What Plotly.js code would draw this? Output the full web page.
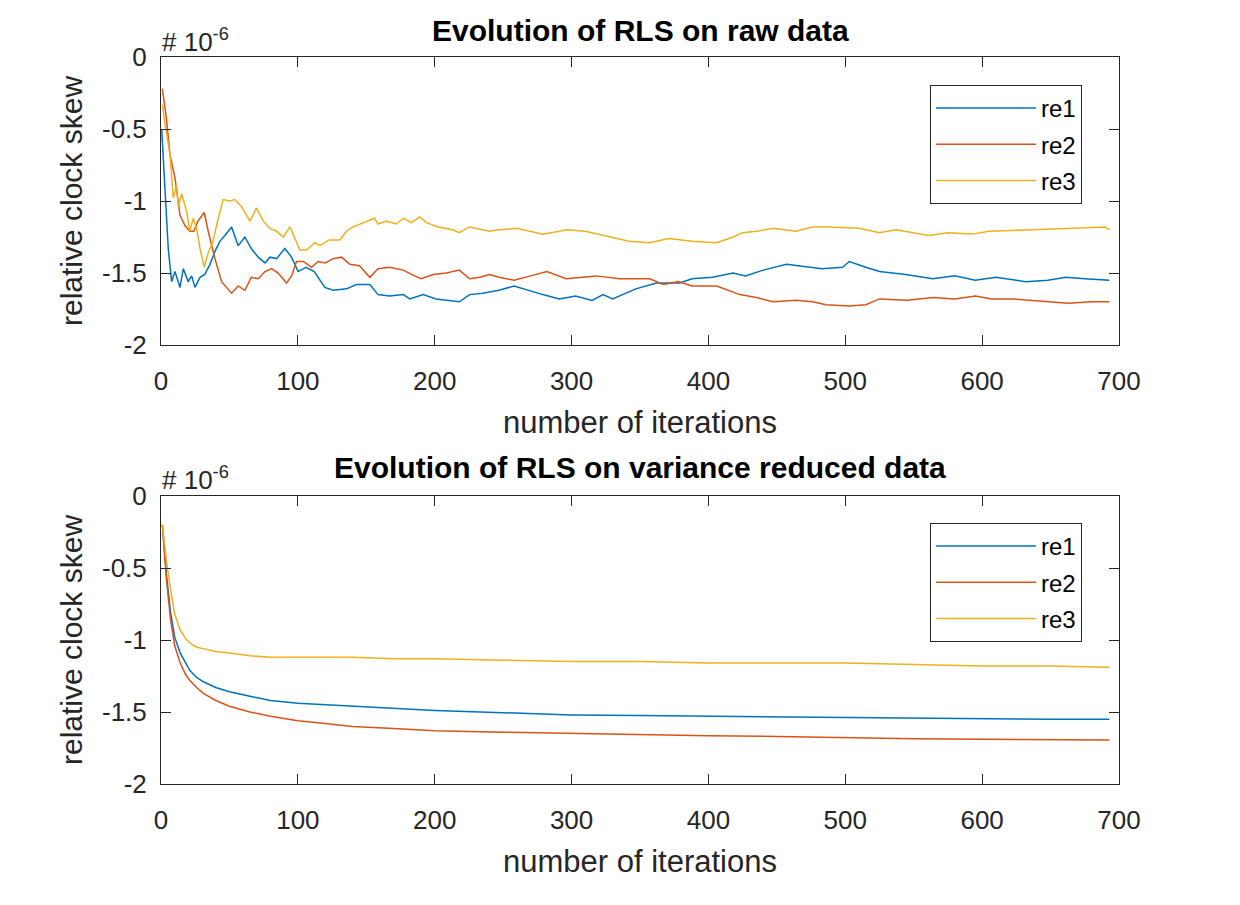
<!DOCTYPE html>
<html>
<head>
<meta charset="utf-8">
<script src="https://cdn.plot.ly/plotly-3.0.1.min.js"></script>
<style>
html,body{margin:0;padding:0;background:#fff;}
#chart{width:1240px;height:905px;}
</style>
</head>
<body>
<div id="chart"></div>
<script>
// ---------- data (values in units of 1e-6) ----------
const seriesNames = ['re1', 're2', 're3'];
const seriesColors = ['#0072BD', '#D95319', '#EDB120'];

// Top panel: raw data
const rawIterRe1 = [0.5, 5.3, 7.8, 10.2, 13.9, 16.3, 19.9, 22.4, 24.8, 28.5, 32, 35.8, 39.4, 43, 46.7, 51.6, 56.4, 61.3, 66, 71, 76, 79.6, 84.5, 90.5, 95.4, 100.2, 106, 112, 119.7, 125.8, 135.5, 142.8, 152.6, 158.6, 167, 177, 181.8, 191.5, 201, 218, 225.5, 235, 247, 258, 279, 291, 303, 315, 323, 330, 347, 362, 379, 388, 403, 418, 427, 440, 457, 466, 483, 498, 503, 515, 525, 544, 564, 580, 595, 610, 632, 648, 661, 675, 693];
const rawRe1 = [-0.50, -1.33, -1.56, -1.49, -1.60, -1.47, -1.56, -1.52, -1.60, -1.53, -1.51, -1.44, -1.35, -1.28, -1.24, -1.18, -1.31, -1.25, -1.33, -1.39, -1.43, -1.39, -1.40, -1.33, -1.39, -1.49, -1.46, -1.49, -1.60, -1.62, -1.61, -1.58, -1.58, -1.65, -1.66, -1.65, -1.68, -1.65, -1.68, -1.70, -1.65, -1.64, -1.62, -1.59, -1.65, -1.68, -1.66, -1.69, -1.65, -1.68, -1.61, -1.57, -1.57, -1.54, -1.53, -1.50, -1.52, -1.48, -1.44, -1.45, -1.47, -1.46, -1.42, -1.46, -1.49, -1.51, -1.54, -1.52, -1.55, -1.53, -1.56, -1.55, -1.53, -1.54, -1.55];

const rawIterRe2 = [1, 4, 6.6, 10.2, 13.9, 17.5, 21, 24, 27, 31.6, 34.5, 39.4, 44.3, 48, 51.6, 56.4, 61.3, 66, 71, 76, 80.8, 85.6, 91.7, 95.4, 99, 104, 110, 114.8, 120, 125.8, 132, 138, 145, 152.6, 158.6, 167, 177, 183, 190, 199, 208.5, 218, 225.5, 233, 240, 247, 258, 270, 282, 296, 318, 335, 357, 367, 378, 388, 406, 423, 435, 447, 464, 476, 486, 503, 515, 525, 545, 564, 580, 595, 607, 622, 637, 663, 680, 693];
const rawRe2 = [-0.22, -0.43, -0.68, -0.84, -1.10, -1.17, -1.21, -1.21, -1.14, -1.08, -1.21, -1.40, -1.56, -1.60, -1.64, -1.59, -1.62, -1.53, -1.54, -1.49, -1.47, -1.50, -1.57, -1.52, -1.42, -1.42, -1.46, -1.42, -1.43, -1.40, -1.39, -1.44, -1.45, -1.53, -1.47, -1.46, -1.48, -1.51, -1.54, -1.51, -1.50, -1.48, -1.54, -1.53, -1.51, -1.53, -1.55, -1.52, -1.49, -1.54, -1.52, -1.54, -1.54, -1.58, -1.56, -1.59, -1.59, -1.65, -1.67, -1.70, -1.69, -1.70, -1.72, -1.73, -1.72, -1.68, -1.69, -1.67, -1.68, -1.66, -1.68, -1.68, -1.69, -1.71, -1.70, -1.70];

const rawIterRe3 = [1, 3, 6.6, 9, 11.4, 12.7, 15.1, 18.7, 21, 23.6, 26, 28.5, 31.6, 34.5, 38, 41.8, 45.5, 50.4, 54, 58.9, 65, 69.8, 74.7, 79.6, 84.5, 89.3, 94.2, 97.8, 101.5, 106.3, 112.4, 116, 123, 130.7, 135.5, 140.4, 152.6, 156, 158.6, 164.7, 172, 177, 183, 189, 194, 202.4, 213, 218, 225.5, 240, 247, 260, 279, 297, 310, 328, 342, 357, 371, 388, 406, 418, 425, 435, 447, 464, 476, 488, 510, 525, 537, 561, 575, 593, 605, 637, 661, 690, 693];
const rawRe3 = [-0.33, -0.47, -0.68, -0.98, -0.89, -1.04, -0.95, -1.07, -1.21, -1.12, -1.19, -1.33, -1.46, -1.36, -1.28, -1.12, -0.99, -1.00, -0.99, -1.04, -1.14, -1.05, -1.14, -1.19, -1.21, -1.25, -1.18, -1.26, -1.34, -1.34, -1.29, -1.31, -1.27, -1.27, -1.21, -1.18, -1.13, -1.12, -1.16, -1.14, -1.16, -1.12, -1.15, -1.11, -1.15, -1.18, -1.20, -1.22, -1.18, -1.21, -1.20, -1.19, -1.23, -1.20, -1.21, -1.25, -1.28, -1.29, -1.26, -1.28, -1.29, -1.25, -1.22, -1.21, -1.19, -1.21, -1.18, -1.18, -1.19, -1.22, -1.20, -1.24, -1.22, -1.23, -1.21, -1.20, -1.19, -1.18, -1.20];

// Bottom panel: variance reduced data
const vrIter = [1, 4, 7, 10, 14, 18, 21, 26, 31, 40, 50, 65, 80, 100, 120, 140, 170, 200, 250, 300, 350, 400, 450, 500, 550, 600, 650, 693];
const vrRe1 = [-0.20, -0.55, -0.81, -0.98, -1.09, -1.16, -1.21, -1.26, -1.29, -1.33, -1.36, -1.39, -1.42, -1.44, -1.45, -1.46, -1.48, -1.49, -1.505, -1.52, -1.525, -1.53, -1.535, -1.54, -1.545, -1.545, -1.55, -1.55];
const vrRe2 = [-0.20, -0.58, -0.86, -1.04, -1.16, -1.24, -1.28, -1.33, -1.37, -1.42, -1.46, -1.50, -1.53, -1.56, -1.58, -1.60, -1.615, -1.63, -1.64, -1.65, -1.66, -1.665, -1.67, -1.68, -1.685, -1.69, -1.69, -1.695];
const vrRe3 = [-0.20, -0.45, -0.65, -0.82, -0.93, -0.99, -1.02, -1.05, -1.06, -1.08, -1.09, -1.11, -1.12, -1.12, -1.12, -1.12, -1.13, -1.13, -1.14, -1.15, -1.15, -1.16, -1.16, -1.16, -1.17, -1.18, -1.18, -1.19];

const xTickVals = [0, 100, 200, 300, 400, 500, 600, 700];
const yTickVals = [0, -0.5, -1, -1.5, -2];
const yTickText = ['0', '-0.5', '-1', '-1.5', '-2'];

const panelTitles = ['Evolution of RLS on raw data', 'Evolution of RLS on variance reduced data'];
const xTitle = 'number of iterations';
const yTitle = 'relative clock skew';

// ---------- build ----------
const FONT = 'Liberation Sans, Arial, Helvetica, sans-serif';
const INK = '#262626';

const rawX = [rawIterRe1, rawIterRe2, rawIterRe3];
const rawY = [rawRe1, rawRe2, rawRe3];
const vrY = [vrRe1, vrRe2, vrRe3];

const traces = [];
for (let i = 0; i < 3; i++) {
  traces.push({
    x: rawX[i], y: rawY[i], type: 'scatter', mode: 'lines',
    name: seriesNames[i], line: {color: seriesColors[i], width: 1.5},
    xaxis: 'x', yaxis: 'y', legend: 'legend', legendgroup: 'a' + i
  });
}
for (let i = 0; i < 3; i++) {
  traces.push({
    x: vrIter, y: vrY[i], type: 'scatter', mode: 'lines',
    name: seriesNames[i], line: {color: seriesColors[i], width: 1.5},
    xaxis: 'x2', yaxis: 'y2', legend: 'legend2', legendgroup: 'b' + i
  });
}

function xAxis(anchor) {
  return {
    domain: [161 / 1240, 1119 / 1240], anchor: anchor, range: [0, 700],
    tickmode: 'array', tickvals: xTickVals,
    ticks: 'inside', ticklen: 10, tickwidth: 1, tickcolor: INK,
    showline: true, linecolor: INK, linewidth: 1, mirror: 'ticks',
    showgrid: false, zeroline: false,
    tickfont: {family: FONT, size: 26, color: INK},
    ticklabelstandoff: 13,
    title: {text: xTitle, font: {family: FONT, size: 31, color: INK}, standoff: 16}
  };
}
function yAxis(domain, anchor) {
  return {
    domain: domain, anchor: anchor, range: [-2, 0],
    tickmode: 'array', tickvals: yTickVals, ticktext: yTickText,
    ticks: 'inside', ticklen: 10, tickwidth: 1, tickcolor: INK,
    showline: true, linecolor: INK, linewidth: 1, mirror: 'ticks',
    showgrid: false, zeroline: false,
    tickfont: {family: FONT, size: 26, color: INK},
    ticklabelstandoff: 8,
    title: {text: yTitle, font: {family: FONT, size: 30, color: INK}, standoff: 10}
  };
}

const topDom = [1 - 345 / 905, 1 - 57 / 905];
const botDom = [1 - 784 / 905, 1 - 496 / 905];

function legendCfg(topPx) {
  return {
    x: 930 / 1240, xanchor: 'left', y: 1 - topPx / 905, yanchor: 'top',
    bgcolor: '#ffffff', bordercolor: INK, borderwidth: 1,
    font: {family: FONT, size: 24, color: '#000'},
    traceorder: 'grouped', tracegroupgap: 2, itemwidth: 100
  };
}

const annotations = [];
const titleY = [30, 468];
for (let k = 0; k < 2; k++) {
  annotations.push({
    text: '<b>' + panelTitles[k] + '</b>', xref: 'paper', yref: 'paper',
    x: 640 / 1240, y: 1 - titleY[k] / 905, xanchor: 'center', yanchor: 'middle',
    showarrow: false, font: {family: FONT, size: 30, color: '#000'}
  });
}
const expY = [40, 479];
for (let k = 0; k < 2; k++) {
  annotations.push({
    text: '# 10<sup>-6</sup>', xref: 'paper', yref: 'paper',
    x: 160 / 1240, y: 1 - expY[k] / 905, xanchor: 'left', yanchor: 'middle',
    showarrow: false, font: {family: FONT, size: 26, color: INK}
  });
}

const layout = {
  width: 1240, height: 905,
  paper_bgcolor: '#ffffff', plot_bgcolor: '#ffffff',
  margin: {l: 0, r: 0, t: 0, b: 0},
  showlegend: true,
  xaxis: xAxis('y'),
  yaxis: yAxis(topDom, 'x'),
  xaxis2: xAxis('y2'),
  yaxis2: yAxis(botDom, 'x2'),
  legend: legendCfg(85),
  legend2: legendCfg(523),
  annotations: annotations
};

Plotly.newPlot('chart', traces, layout, {displayModeBar: false, staticPlot: true});
</script>
</body>
</html>
